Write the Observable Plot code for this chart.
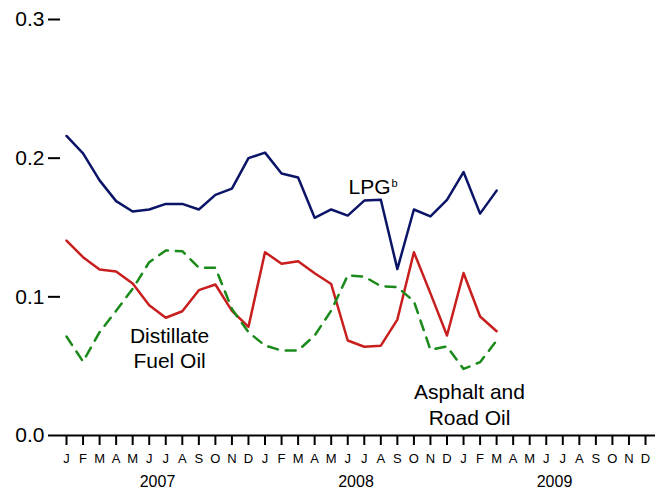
<!DOCTYPE html>
<html><head><meta charset="utf-8">
<script src="https://cdn.jsdelivr.net/npm/d3@7"></script>
<script src="https://cdn.jsdelivr.net/npm/@observablehq/plot@0.6"></script>
<style>body{margin:0;background:#fff}</style>
</head><body><div id="chart"></div>
<script>
const monthLetters = ["J","F","M","A","M","J","J","A","S","O","N","D"];
const years = ["2007","2008","2009"];
const yTicks = [0, 0.1, 0.2, 0.3];
const seriesNames = ["LPG", "Distillate Fuel Oil", "Asphalt and Road Oil"];
// Monthly values, Jan 2007 – Mar 2009
const lpg = [0.216,0.2035,0.184,0.169,0.1615,0.163,0.167,0.167,0.163,0.1735,0.178,0.200,
             0.204,0.189,0.186,0.157,0.163,0.1586,0.1694,0.170,0.120,0.163,0.158,0.170,
             0.190,0.160,0.1766];
const distillate = [0.1405,0.1286,0.1197,0.1183,0.1096,0.094,0.0849,0.0896,0.1048,0.1089,0.0899,0.0784,
                    0.1322,0.1238,0.1256,0.117,0.1092,0.0685,0.064,0.0648,0.0836,0.1322,0.1025,0.0721,
                    0.1172,0.0858,0.0752];
const asphalt = [0.0714,0.0533,0.0745,0.090,0.1058,0.125,0.1334,0.1329,0.121,0.121,0.0913,0.0745,
                 0.0649,0.0613,0.0613,0.0721,0.090,0.1155,0.1146,0.1077,0.107,0.0968,0.0618,0.0642,
                 0.048,0.0529,0.0685];

const seriesColors = ["#0b1466", "#c81e1e", "#1a8a1a"];

const rows = [];
[lpg, distillate, asphalt].forEach((vals, s) =>
  vals.forEach((v, i) => rows.push({series: seriesNames[s], i, value: v})));

const monthIdx = d3.range(years.length * 12);
const monthLabels = years.flatMap(() => monthLetters);
const yearPos = years.map((y, k) => k * 12 + 5.5);

const labels = [
  {text: "Distillate\nFuel Oil", i: 6.23, value: 0.0795, lh: 1.18},
  {text: "Asphalt and\nRoad Oil", i: 24.36, value: 0.0400, lh: 1.26}
];
const lpgLabel = [{text: "LPG", i: 18.32, value: 0.1851}];
const supLabel = [{text: "b", i: 19.65, value: 0.1846}];

const font = "'Liberation Sans', Arial, Helvetica, sans-serif";

const chart = Plot.plot({
  width: 665,
  height: 491,
  marginLeft: 60,
  marginRight: 10,
  marginTop: 19,
  marginBottom: 56,
  style: {fontFamily: font, background: "#fff", color: "#000"},
  x: {domain: [-0.363, 35.604], label: null},
  y: {domain: [0, 0.3], label: null},
  color: {domain: seriesNames, range: seriesColors},
  marks: [
    Plot.axisY(yTicks, {anchor: "left", tickSize: 12, tickPadding: 4, fontSize: 21,
      strokeWidth: 2, tickFormat: d3.format(".1f")}),
    Plot.axisX(monthIdx, {anchor: "bottom", tickSize: 10, tickPadding: 8, fontSize: 13,
      strokeWidth: 2, tickFormat: i => monthLabels[i]}),
    Plot.axisX(yearPos, {anchor: "bottom", tickSize: 0, tickPadding: 40, fontSize: 16,
      tickFormat: d => years[Math.round((d - 5.5) / 12)]}),
    Plot.ruleY([0], {strokeWidth: 2}),
    Plot.line(rows.filter(d => d.series !== seriesNames[2]), {
      x: "i", y: "value", z: "series", stroke: "series", strokeWidth: 2.5
    }),
    Plot.line(rows.filter(d => d.series === seriesNames[2]), {
      x: "i", y: "value", stroke: "series", strokeWidth: 2.5, strokeDasharray: "10,8"
    }),
    Plot.text(lpgLabel, {x: "i", y: "value", text: "text", fontSize: 21, lineAnchor: "top", textAnchor: "middle", fill: "#000"}),
    Plot.text(supLabel, {x: "i", y: "value", text: "text", fontSize: 11, lineAnchor: "top", textAnchor: "start", fill: "#000"}),
    Plot.text([labels[0]], {x: "i", y: "value", text: "text", fontSize: 21, lineAnchor: "top", textAnchor: "middle", lineHeight: labels[0].lh, fill: "#000"}),
    Plot.text([labels[1]], {x: "i", y: "value", text: "text", fontSize: 21, lineAnchor: "top", textAnchor: "middle", lineHeight: labels[1].lh, fill: "#000"})
  ]
});
document.getElementById("chart").appendChild(chart);
</script>
</body></html>
